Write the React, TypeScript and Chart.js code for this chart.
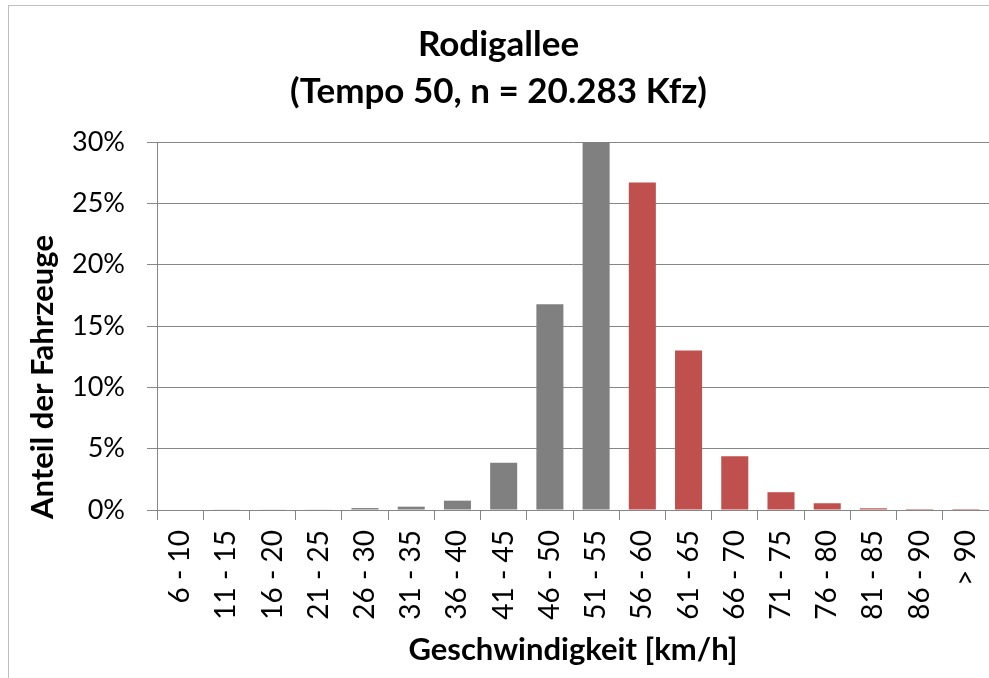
import React, { useEffect, useRef } from "react";
import { Chart, registerables } from "chart.js";

Chart.register(...registerables);

const categories = [
  "6 - 10", "11 - 15", "16 - 20", "21 - 25", "26 - 30", "31 - 35",
  "36 - 40", "41 - 45", "46 - 50", "51 - 55", "56 - 60", "61 - 65",
  "66 - 70", "71 - 75", "76 - 80", "81 - 85", "86 - 90", "> 90",
];
const shares = [
  0, 0.05, 0.05, 0.05, 0.16, 0.27, 0.76, 3.86, 16.77, 30.0,
  26.7, 13.0, 4.38, 1.45, 0.55, 0.14, 0.08, 0.08,
];
const firstOverLimitIndex = 10; // from "56 - 60" on
const titleLines = ["Rodigallee", "(Tempo 50, n = 20.283 Kfz)"];
const yTitle = "Anteil der Fahrzeuge";
const xTitle = "Geschwindigkeit [km/h]";
const yTicks = [0, 5, 10, 15, 20, 25, 30];

const GRAY = "#808080";
const RED = "#C0504D";
const GRID = "#868686";
const FONT = "Lato, 'Open Sans', sans-serif";

const framePlugin = {
  id: "frame",
  beforeDraw(chart: any) {
    const { ctx, width, height } = chart;
    ctx.save();
    ctx.fillStyle = "#ffffff";
    ctx.fillRect(0, 0, width, height);
    ctx.strokeStyle = "#BFBFBF";
    ctx.lineWidth = 1;
    ctx.strokeRect(0.5, 0.5, width - 1, height - 1);
    ctx.restore();
  },
};

const yTitlePlugin = {
  id: "yTitleText",
  afterDraw(chart: any) {
    const { ctx } = chart;
    ctx.save();
    ctx.translate(35, 372);
    ctx.rotate(-Math.PI / 2);
    ctx.fillStyle = "#000000";
    ctx.font = `bold 31px ${FONT}`;
    ctx.textAlign = "center";
    ctx.textBaseline = "middle";
    ctx.fillText(yTitle, 0, 0);
    ctx.restore();
  },
};

export default function App() {
  const canvasRef = useRef<HTMLCanvasElement | null>(null);

  useEffect(() => {
    if (!canvasRef.current) return;
    const colors = shares.map((_, i) => (i >= firstOverLimitIndex ? RED : GRAY));
    const chart = new Chart(canvasRef.current, {
      type: "bar",
      data: {
        labels: categories,
        datasets: [
          {
            data: shares,
            backgroundColor: colors,
            borderWidth: 0,
            barPercentage: 0.585,
            categoryPercentage: 1,
          },
        ],
      },
      plugins: [framePlugin, yTitlePlugin],
      options: {
        responsive: false,
        animation: false,
        devicePixelRatio: 1,
        layout: { padding: { left: 0, right: 23, top: 0, bottom: 0 } },
        plugins: {
          legend: { display: false },
          tooltip: { enabled: false },
          title: {
            display: true,
            text: titleLines,
            color: "#000000",
            font: { family: FONT, size: 35, weight: "bold", lineHeight: 1.343 },
            padding: { top: 16, bottom: 27 },
          },
        },
        scales: {
          x: {
            offset: true,
            grid: {
              display: true,
              offset: true,
              drawOnChartArea: false,
              drawTicks: true,
              tickLength: 10,
              color: GRID,
            },
            border: { display: true, color: GRID, width: 1 },
            ticks: {
              autoSkip: false,
              minRotation: 90,
              maxRotation: 90,
              padding: 10,
              color: "#000000",
              font: { family: FONT, size: 28 },
            },
            title: {
              display: true,
              text: xTitle,
              color: "#000000",
              font: { family: FONT, size: 31, weight: "bold", lineHeight: 1.2 },
              padding: { top: 0, bottom: 16 },
            },
            afterFit(scale: any) {
              scale.height = 175;
            },
          },
          y: {
            min: 0,
            max: 30,
            afterBuildTicks(scale: any) {
              scale.ticks = yTicks.map((v) => ({ value: v }));
            },
            grid: {
              color: GRID,
              drawTicks: true,
              tickLength: 10,
            },
            border: { display: true, color: GRID, width: 1 },
            ticks: {
              padding: 22,
              color: "#000000",
              font: { family: FONT, size: 27 },
              callback: (v: any) => `${v}%`,
            },
            title: { display: false },
            afterFit(scale: any) {
              scale.width = 149;
            },
          },
        },
      },
    });
    return () => chart.destroy();
  }, []);

  return (
    <div
      style={{
        position: "fixed",
        left: 8,
        top: 5,
        width: 981,
        height: 673,
        overflow: "hidden",
      }}
    >
      <canvas ref={canvasRef} width={1004} height={680} style={{ display: "block" }} />
    </div>
  );
}
